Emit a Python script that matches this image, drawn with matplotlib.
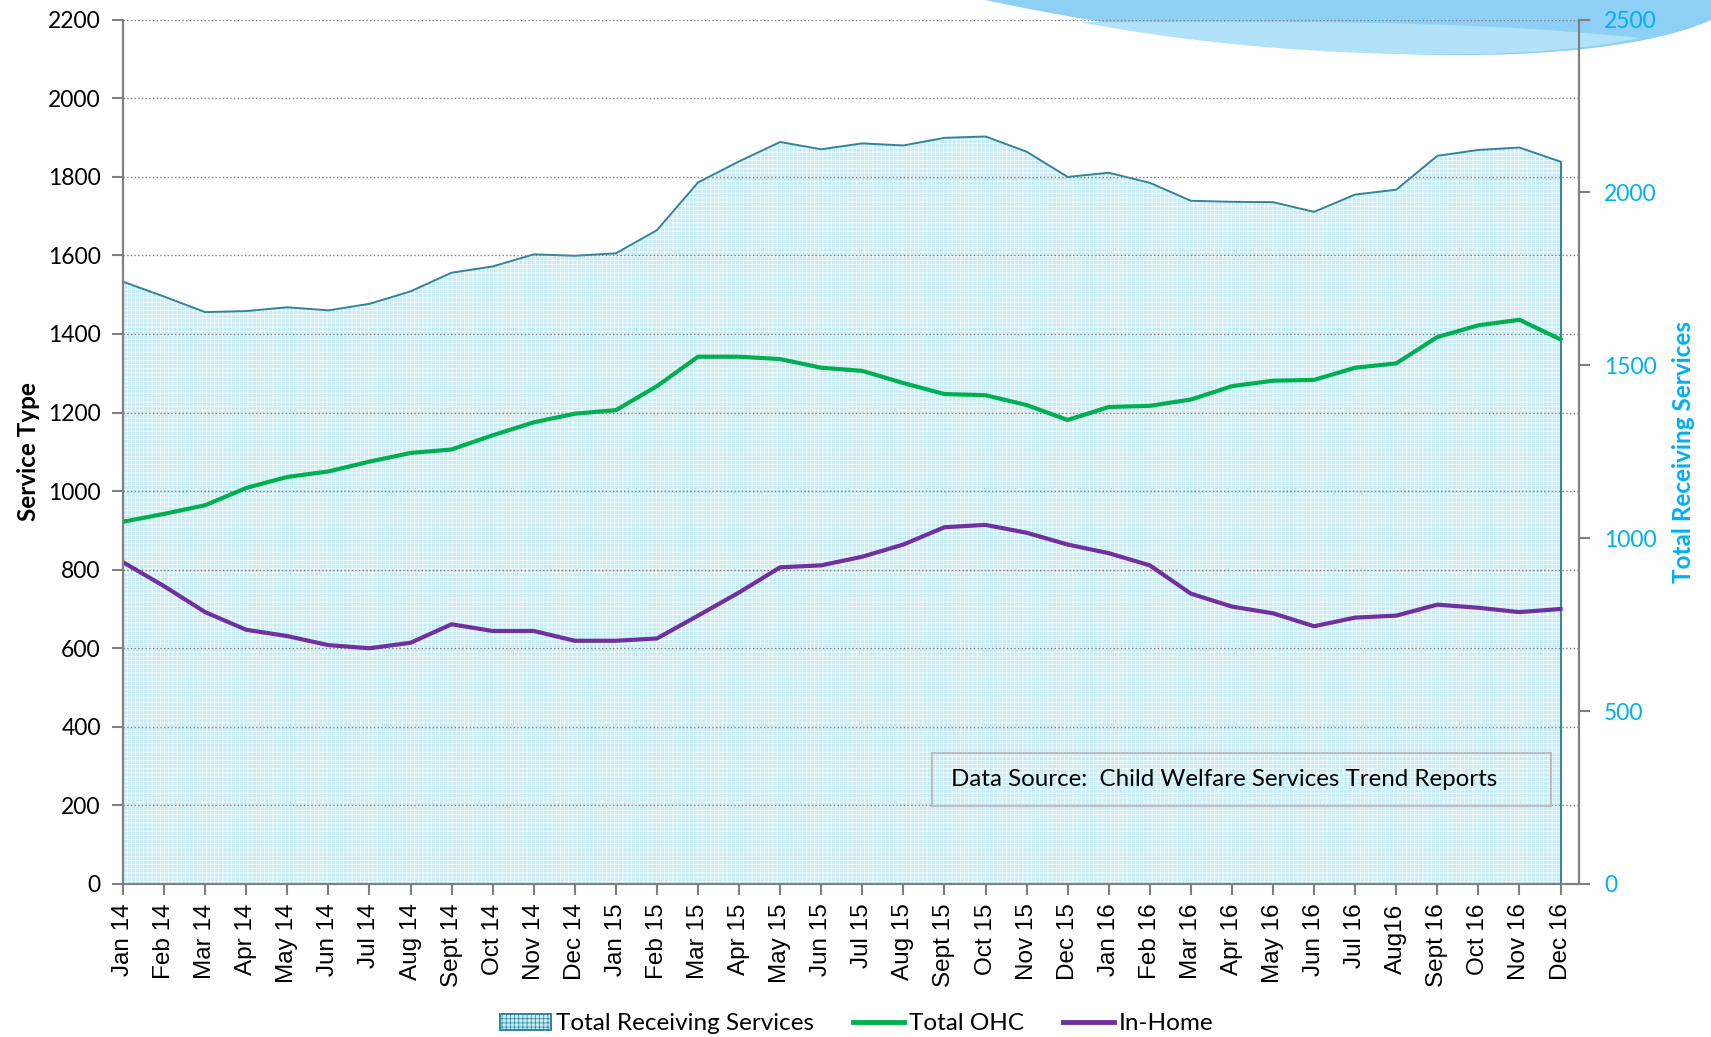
import numpy as np
import matplotlib
matplotlib.use("Agg")
import matplotlib.pyplot as plt
from matplotlib.path import Path
from matplotlib.patches import PathPatch, Rectangle, Patch
from matplotlib.lines import Line2D

plt.rcParams['font.family'] = ['Lato', 'DejaVu Sans']
plt.rcParams['hatch.linewidth'] = 0.5

months = ["Jan 14", "Feb 14", "Mar 14", "Apr 14", "May 14", "Jun 14", "Jul 14", "Aug 14",
          "Sept 14", "Oct 14", "Nov 14", "Dec 14", "Jan 15", "Feb 15", "Mar 15", "Apr 15",
          "May 15", "Jun 15", "Jul 15", "Aug 15", "Sept 15", "Oct 15", "Nov 15", "Dec 15",
          "Jan 16", "Feb 16", "Mar 16", "Apr 16", "May 16", "Jun 16", "Jul 16", "Aug16",
          "Sept 16", "Oct 16", "Nov 16", "Dec 16"]

total_receiving = [1742, 1699, 1654, 1657, 1668, 1659, 1678, 1714, 1768, 1786, 1821, 1817,
                   1824, 1891, 2029, 2090, 2146, 2125, 2142, 2136, 2158, 2162, 2118, 2045,
                   2057, 2028, 1976, 1973, 1972, 1944, 1994, 2008, 2106, 2123, 2130, 2089]

total_ohc = [922, 942, 964, 1008, 1036, 1050, 1075, 1097, 1106, 1142, 1175, 1197,
             1206, 1267, 1342, 1342, 1336, 1314, 1306, 1275, 1247, 1244, 1219, 1181,
             1214, 1217, 1233, 1267, 1281, 1283, 1314, 1325, 1392, 1422, 1436, 1386]

in_home = [819, 758, 692, 647, 631, 608, 600, 614, 661, 644, 644, 619,
           619, 625, 683, 742, 806, 811, 833, 864, 908, 914, 894, 864,
           842, 811, 739, 706, 689, 656, 678, 683, 711, 703, 692, 700]

left_ticks = list(range(0, 2201, 200))
right_ticks = list(range(0, 2501, 500))

W, H = 1711, 1037
fig = plt.figure(figsize=(W / 100, H / 100), dpi=100)

# decorative wave in the top right corner
def fp(x, y):
    return (x / W, 1 - y / H)

outer = Path([fp(985, 0), fp(1150, 35), fp(1330, 56), fp(1465, 55),
              fp(1600, 55), fp(1680, 35), fp(1711, 20), fp(1711, 0), fp(985, 0)],
             [Path.MOVETO, Path.CURVE4, Path.CURVE4, Path.CURVE4,
              Path.CURVE4, Path.CURVE4, Path.CURVE4, Path.LINETO, Path.CLOSEPOLY])
fig.patches.append(PathPatch(outer, transform=fig.transFigure, facecolor='#8dcff5',
                             edgecolor='none', zorder=-5))
inner = Path([fp(1080, 22), fp(1250, 22), fp(1450, 18), fp(1640, 38),
              fp(1560, 55), fp(1470, 55), fp(1400, 54),
              fp(1280, 52), fp(1160, 38), fp(1080, 22)],
             [Path.MOVETO, Path.CURVE4, Path.CURVE4, Path.CURVE4,
              Path.CURVE4, Path.CURVE4, Path.CURVE4,
              Path.CURVE4, Path.CURVE4, Path.CURVE4])
fig.patches.append(PathPatch(inner, transform=fig.transFigure, facecolor='#b2e1fa',
                             edgecolor='none', zorder=-4))

ax = fig.add_axes([123 / W, 1 - 884 / H, (1579 - 123) / W, (884 - 19.6) / H])
ax2 = ax.twinx()
ax.set_zorder(ax2.get_zorder() + 1)
ax.patch.set_visible(False)
ax2.patch.set_visible(False)

x = np.arange(len(months))

ax2.fill_between(x, total_receiving, 0, facecolor='#c6ecf6', edgecolor='white',
                 hatch='++++', linewidth=0)
ax2.plot(x, total_receiving, color='#31849b', linewidth=1.4)
ax2.plot([x[-1], x[-1]], [0, total_receiving[-1]], color='#31849b', linewidth=1.4)
ax2.set_ylim(0, 2500)
ax2.set_yticks(right_ticks)
ax2.tick_params(axis='y', colors='#808080', labelcolor='#00b0f0', labelsize=16.5,
                length=8, width=1.5, pad=10)
ax2.set_ylabel("Total Receiving Services", color='#00b0f0', fontsize=17.5,
               fontweight='bold', labelpad=11)

ax.plot(x, total_ohc, color='#00b050', linewidth=3)
ax.plot(x, in_home, color='#7030a0', linewidth=3)
ax.set_ylim(0, 2200)
ax.set_yticks(left_ticks)
ax.set_xlim(0, 35.45)
ax.set_xticks(x, months)
ax.grid(axis='y', linestyle=':', color='#808080', linewidth=1)
ax.tick_params(axis='y', colors='#808080', labelcolor='black', labelsize=16.5,
               length=8, width=1.5, pad=8)
ax.tick_params(axis='x', colors='#808080', labelcolor='black', labelsize=17.5,
               labelrotation=90, labelfontfamily='Liberation Sans',
               length=8, width=1.5, pad=6)
ax.set_ylabel("Service Type", fontsize=17.5, fontweight='bold', labelpad=6)

for a in (ax, ax2):
    a.spines['top'].set_visible(False)
    for s in ('left', 'right', 'bottom'):
        a.spines[s].set_color('#808080')
        a.spines[s].set_linewidth(1.5)

# data source box
ax.add_patch(Rectangle((0.5556, 0.0902), 0.4252, 0.0614, transform=ax.transAxes,
                       facecolor='none', edgecolor='#bfbfbf', linewidth=1.5, zorder=5))
ax.text(0.569, 0.1209, "Data Source:  Child Welfare Services Trend Reports",
        transform=ax.transAxes, fontsize=17.4, va='center', ha='left', zorder=6)

handles = [Patch(facecolor='#c6ecf6', edgecolor='#31849b', hatch='++++', linewidth=1.4),
           Line2D([], [], color='#00b050', linewidth=3.5),
           Line2D([], [], color='#7030a0', linewidth=3.5)]
fig.legend(handles, ["Total Receiving Services", "Total OHC", "In-Home"],
           loc='center', bbox_to_anchor=(857 / W, 1 - 1024 / H), ncol=3, frameon=False,
           fontsize=17.5, handlelength=2.1, handleheight=0.6, handletextpad=0.2,
           columnspacing=1.6)

fig.savefig("out.png", dpi=100)
